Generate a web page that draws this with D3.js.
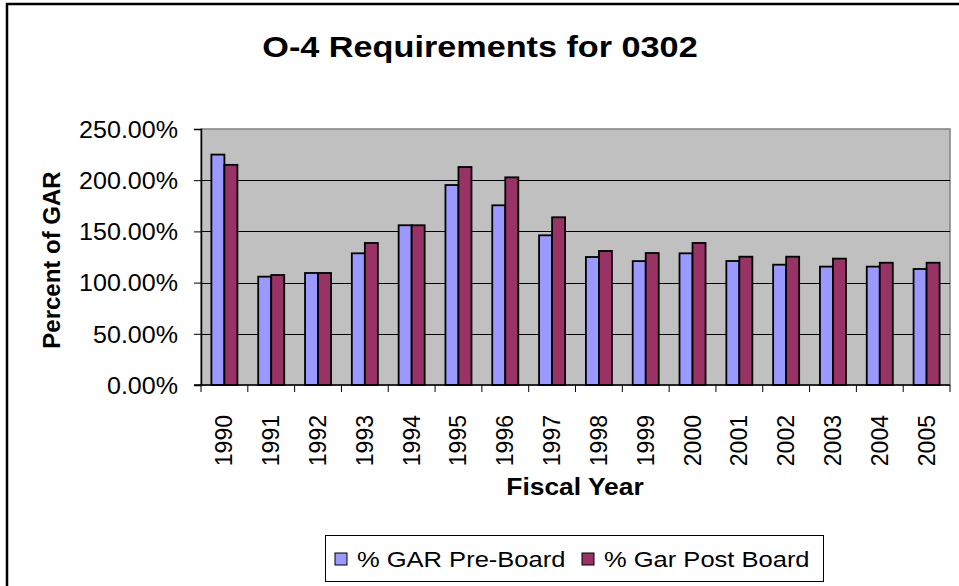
<!DOCTYPE html>
<html>
<head>
<meta charset="utf-8">
<title>O-4 Requirements for 0302</title>
<script src="https://d3js.org/d3.v7.min.js"></script>
<style>
  body { margin: 0; background: #fff; }
  svg text { font-family: "Liberation Sans", Arial, sans-serif; fill: #000; }
</style>
</head>
<body>
<div id="chart"></div>
<script>
// data (percent of GAR)
var years = ["1990","1991","1992","1993","1994","1995","1996","1997",
             "1998","1999","2000","2001","2002","2003","2004","2005"];
var preBoard  = [225, 105.8, 109.4, 128.6, 156, 195.3, 175.5, 146.2,
                 125, 121, 128.6, 121.1, 117.5, 115.6, 115.6, 113.3];
var postBoard = [215, 107.4, 109.4, 138.7, 156, 212.9, 202.8, 163.8,
                 130.9, 128.9, 138.7, 125.3, 125.3, 123.4, 119.4, 119.4];
var seriesNames = ["% GAR Pre-Board", "% Gar Post Board"];
var yTicks = [0, 50, 100, 150, 200, 250];

var W = 959, H = 586;
var plot = {left: 201, right: 950, top: 129, bottom: 385};
var colors = ["#9999ff", "#993366"];

var svg = d3.select("#chart").append("svg")
    .attr("width", W).attr("height", H);

// the original text is a little stretched sideways
function stretched(px, py, sx) {
  return "translate(" + px + "," + py + ") scale(" + sx + ",1)";
}

// outer chart frame (cut off at right and bottom)
svg.append("rect")
    .attr("x", 7).attr("y", 4)
    .attr("width", W + 10).attr("height", H + 10)
    .attr("fill", "#fff").attr("stroke", "#000").attr("stroke-width", 2.5);

// title
svg.append("text")
    .attr("transform", stretched(480, 57, 1.18))
    .attr("text-anchor", "middle")
    .style("font-size", "29px").style("font-weight", "bold")
    .text("O-4 Requirements for 0302");

var x = d3.scaleBand().domain(years).range([plot.left, plot.right]);
var y = d3.scaleLinear().domain([0, 250]).range([plot.bottom, plot.top]);
var barW = x.bandwidth() * 0.278;

// plot area
svg.append("rect")
    .attr("x", plot.left).attr("y", plot.top)
    .attr("width", plot.right - plot.left).attr("height", plot.bottom - plot.top)
    .attr("fill", "#c0c0c0").attr("stroke", "#808080").attr("stroke-width", 1.5);

// gridlines
svg.append("g").selectAll("line")
    .data(yTicks.filter(function(d) { return d > 0 && d < 250; }))
  .enter().append("line")
    .attr("x1", plot.left).attr("x2", plot.right)
    .attr("y1", function(d) { return Math.round(y(d)) + 0.5; })
    .attr("y2", function(d) { return Math.round(y(d)) + 0.5; })
    .attr("stroke", "#000").attr("stroke-width", 1);

// bars
var rows = years.map(function(yr, i) { return {year: yr, vals: [preBoard[i], postBoard[i]]}; });
var groups = svg.append("g").selectAll("g")
    .data(rows).enter().append("g");
groups.selectAll("rect")
    .data(function(d) { return d.vals.map(function(v, k) { return {year: d.year, v: v, k: k}; }); })
  .enter().append("rect")
    .attr("x", function(d) { return x(d.year) + x.bandwidth() / 2 - barW + d.k * barW; })
    .attr("y", function(d) { return y(d.v); })
    .attr("width", barW)
    .attr("height", function(d) { return y(0) - y(d.v); })
    .attr("fill", function(d) { return colors[d.k]; })
    .attr("stroke", "#000").attr("stroke-width", 1.8);

// y axis
var yAxis = svg.append("g")
    .attr("transform", "translate(" + plot.left + ",0)")
    .call(d3.axisLeft(y).tickValues(yTicks).tickSize(7).tickPadding(0)
      .tickFormat(function(d) { return d.toFixed(2) + "%"; }));
yAxis.select(".domain").attr("stroke", "#000").attr("stroke-width", 1.5);
yAxis.selectAll(".tick line").attr("stroke", "#000");
yAxis.selectAll("text")
    .attr("x", 0)
    .attr("transform", stretched(-23, 0, 1.09))
    .style("font-size", "23px").attr("dy", "0.36em");

// x axis: ticks at category boundaries
var xAxis = svg.append("g")
    .attr("transform", "translate(0," + plot.bottom + ")");
xAxis.append("line")
    .attr("x1", plot.left - 7).attr("x2", plot.right)
    .attr("stroke", "#000").attr("stroke-width", 1.5);
xAxis.selectAll(".tk")
    .data(years.concat(["end"]))
  .enter().append("line")
    .attr("x1", function(d) { return d === "end" ? plot.right : x(d); })
    .attr("x2", function(d) { return d === "end" ? plot.right : x(d); })
    .attr("y1", 0).attr("y2", 7)
    .attr("stroke", "#000");
xAxis.selectAll(".lab")
    .data(years)
  .enter().append("text")
    .attr("transform", function(d) {
      return "translate(" + (x(d) + x.bandwidth() / 2 + 8) + ",30) rotate(-90)";
    })
    .attr("text-anchor", "end")
    .style("font-size", "23px")
    .text(function(d) { return d; });

// axis titles
svg.append("text")
    .attr("transform", stretched(575, 495, 1.1))
    .attr("text-anchor", "middle")
    .style("font-size", "24px").style("font-weight", "bold")
    .text("Fiscal Year");
svg.append("text")
    .attr("transform", "translate(60,260) rotate(-90)")
    .attr("text-anchor", "middle")
    .style("font-size", "24px").style("font-weight", "bold")
    .text("Percent of GAR");

// legend
var lg = svg.append("g");
lg.append("rect")
    .attr("x", 325.5).attr("y", 535.5).attr("width", 498).attr("height", 46)
    .attr("fill", "#fff").attr("stroke", "#000").attr("stroke-width", 1);
var legX = [335, 582];
seriesNames.forEach(function(name, k) {
  lg.append("rect")
    .attr("x", legX[k]).attr("y", 553).attr("width", 12).attr("height", 12)
    .attr("fill", colors[k]).attr("stroke", "#000").attr("stroke-width", 1);
  lg.append("text")
    .attr("transform", stretched(legX[k] + 22, 567, 1.16))
    .style("font-size", "22px")
    .text(name);
});
</script>
</body>
</html>
